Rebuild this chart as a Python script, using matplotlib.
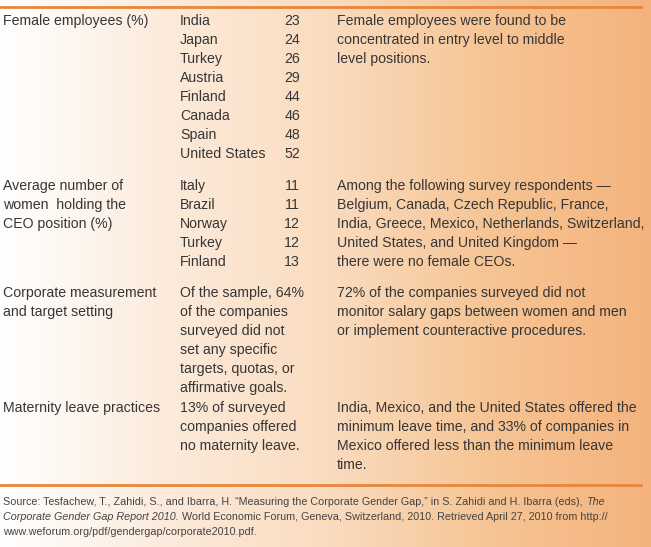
import numpy as np
import matplotlib.pyplot as plt
from matplotlib.colors import LinearSegmentedColormap

# table content
measures = ["Female employees (%)",
            "Average number of\nwomen  holding the\nCEO position (%)",
            "Corporate measurement\nand target setting",
            "Maternity leave practices"]
countries_female = ["India", "Japan", "Turkey", "Austria", "Finland", "Canada", "Spain", "United States"]
values_female = [23, 24, 26, 29, 44, 46, 48, 52]
countries_ceo = ["Italy", "Brazil", "Norway", "Turkey", "Finland"]
values_ceo = [11, 11, 12, 12, 13]
middle_notes = [None, None,
                "Of the sample, 64%\nof the companies\nsurveyed did not\nset any specific\ntargets, quotas, or\naffirmative goals.",
                "13% of surveyed\ncompanies offered\nno maternity leave."]
findings = ["Female employees were found to be\nconcentrated in entry level to middle\nlevel positions.",
            "Among the following survey respondents \u2014\nBelgium, Canada, Czech Republic, France,\n"
            "India, Greece, Mexico, Netherlands, Switzerland,\nUnited States, and United Kingdom \u2014\n"
            "there were no female CEOs.",
            "72% of the companies surveyed did not\nmonitor salary gaps between women and men\n"
            "or implement counteractive procedures.",
            "India, Mexico, and the United States offered the\nminimum leave time, and 33% of companies in\n"
            "Mexico offered less than the minimum leave\ntime."]

W, H = 651, 547
fig = plt.figure(figsize=(W / 100, H / 100), dpi=100)
ax = fig.add_axes([0, 0, 1, 1])
ax.set_xlim(0, W)
ax.set_ylim(H, 0)
ax.axis("off")

cmap = LinearSegmentedColormap.from_list("peach", ["#ffffff", "#fcebdc", "#fadcc0", "#f6c595", "#f4b37d"])
grad = np.linspace(0, 1, 256)[None, :]
ax.imshow(grad, cmap=cmap, extent=[0, W, H, 0], aspect="auto", zorder=0)

line_col = "#e9863a"
ax.plot([0, 641], [7, 7], color=line_col, lw=2)
ax.plot([0, 641], [485, 485], color=line_col, lw=2)

fam = "Liberation Sans"
fs = 10.2
tc = "#363636"
row_y = [21, 186, 293, 408]  # top line of each row, in pixels
dy = 19.05


def lines(x, y, text, ha="left"):
    for i, s in enumerate(text.split("\n")):
        ax.text(x, y + i * dy, s, ha=ha, va="center",
                fontsize=fs, family=fam, color=tc)


for k, m in enumerate(measures):
    lines(3, row_y[k], m)
    lines(337, row_y[k], findings[k])
    if middle_notes[k]:
        lines(180, row_y[k], middle_notes[k])

for i, (c, v) in enumerate(zip(countries_female, values_female)):
    lines(180, row_y[0] + i * dy, c)
    lines(300, row_y[0] + i * dy, str(v), ha="right")
for i, (c, v) in enumerate(zip(countries_ceo, values_ceo)):
    lines(180, row_y[1] + i * dy, c)
    lines(300, row_y[1] + i * dy, str(v), ha="right")

# source note, with italic title
source = [
    [("Source: Tesfachew, T., Zahidi, S., and Ibarra, H. \u201cMeasuring the Corporate Gender Gap,\u201d "
      "in S. Zahidi and H. Ibarra (eds), ", "normal"), ("The", "italic")],
    [("Corporate Gender Gap Report 2010.", "italic"),
     (" World Economic Forum, Geneva, Switzerland, 2010. Retrieved April 27, 2010 from http://", "normal")],
    [("www.weforum.org/pdf/gendergap/corporate2010.pdf.", "normal")],
]
sfs = 7.75
renderer = fig.canvas.get_renderer()
for j, parts in enumerate(source):
    x = 3
    for s, style in parts:
        t = ax.text(x, 502 + j * 15, s, ha="left", va="center", fontsize=sfs,
                    family=fam, style=style, color="#444444")
        bb = t.get_window_extent(renderer)
        x += bb.width

fig.savefig("out.png", dpi=100)
